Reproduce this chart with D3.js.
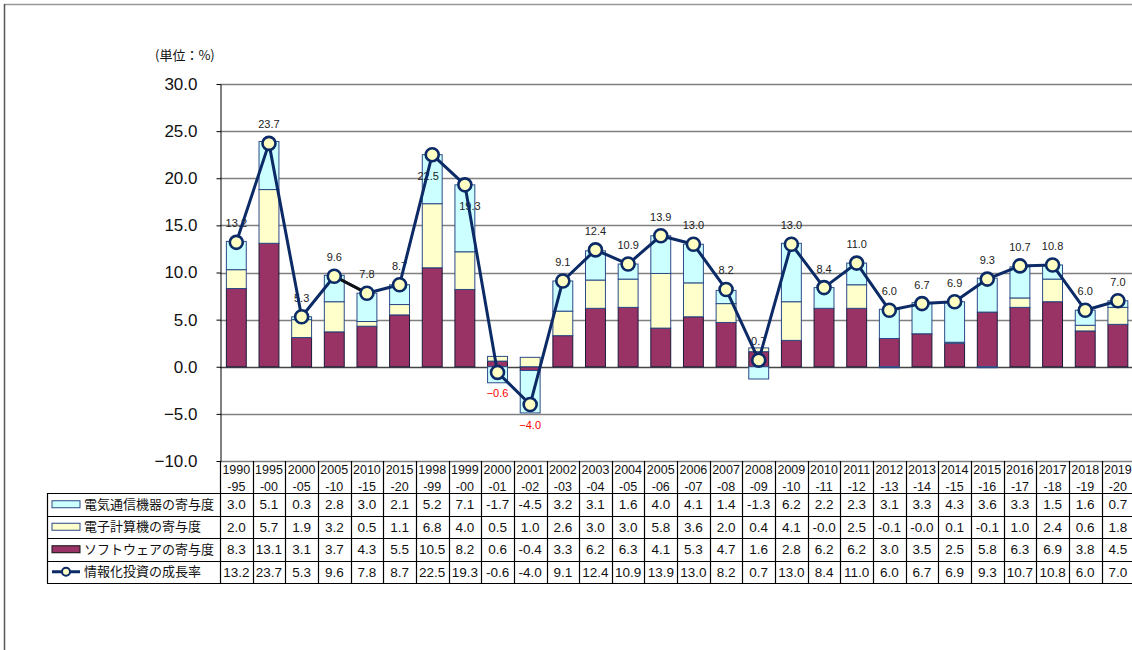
<!DOCTYPE html>
<html>
<head>
<meta charset="utf-8">
<script src="https://cdn.jsdelivr.net/npm/d3@7/dist/d3.min.js"></script>
<style>
  html, body { margin: 0; padding: 0; background: #fff; }
  svg { display: block; font-family: Arial, "Liberation Sans", sans-serif; }
  .jp { font-family: "Noto Sans CJK JP", sans-serif; }
</style>
</head>
<body>
<svg id="chart" width="1132" height="650"></svg>
<script>
// ---------------- data ----------------
const categories = ["1990-95","1995-00","2000-05","2005-10","2010-15","2015-20",
  "1998-99","1999-00","2000-01","2001-02","2002-03","2003-04","2004-05","2005-06",
  "2006-07","2007-08","2008-09","2009-10","2010-11","2011-12","2012-13","2013-14",
  "2014-15","2015-16","2016-17","2017-18","2018-19","2019-20"];
const telecom  = [3.0,5.1,0.3,2.8,3.0,2.1,5.2,7.1,-1.7,-4.5,3.2,3.1,1.6,4.0,4.1,1.4,-1.3,6.2,2.2,2.3,3.1,3.3,4.3,3.6,3.3,1.5,1.6,0.7];
const computer = [2.0,5.7,1.9,3.2,0.5,1.1,6.8,4.0,0.5,1.0,2.6,3.0,3.0,5.8,3.6,2.0,0.4,4.1,-0.0,2.5,-0.1,-0.0,0.1,-0.1,1.0,2.4,0.6,1.8];
const software = [8.3,13.1,3.1,3.7,4.3,5.5,10.5,8.2,0.6,-0.4,3.3,6.2,6.3,4.1,5.3,4.7,1.6,2.8,6.2,6.2,3.0,3.5,2.5,5.8,6.3,6.9,3.8,4.5];
const growth   = [13.2,23.7,5.3,9.6,7.8,8.7,22.5,19.3,-0.6,-4.0,9.1,12.4,10.9,13.9,13.0,8.2,0.7,13.0,8.4,11.0,6.0,6.7,6.9,9.3,10.7,10.8,6.0,7.0];
const yTicks = [-10,-5,0,5,10,15,20,25,30];
const seriesNames = ["電気通信機器の寄与度","電子計算機の寄与度","ソフトウェアの寄与度","情報化投資の成長率"];
const unitLabel = "(単位：%)";

// ---------------- layout ----------------
const svg = d3.select("#chart");
const plotLeft = 220, step = 32.65, plotRight = plotLeft + step * categories.length;
const plotTop = 84, plotBottom = 461;
const tableLeft = 47;
const headerBottom = 493;
const rowH = 22.5;

const x = d3.scaleBand().domain(categories).range([plotLeft, plotRight])
  .paddingInner(0.36).paddingOuter(0.18);
const y = d3.scaleLinear().domain([-10, 30]).range([plotBottom, plotTop]);
const cx = c => x(c) + x.bandwidth() / 2;

const colors = { telecom: "#CCFFFF", computer: "#FFFFCC", software: "#993366" };
const navy = "#0B2A66";

// outer frame
svg.append("line").attr("x1", 4).attr("x2", 1132).attr("y1", 4.5).attr("y2", 4.5)
  .attr("stroke", "#999").attr("stroke-width", 1.5);
svg.append("line").attr("x1", 4.5).attr("x2", 4.5).attr("y1", 4).attr("y2", 650)
  .attr("stroke", "#555").attr("stroke-width", 1.5);

// unit label
svg.append("text").attr("class", "jp").attr("x", 155).attr("y", 60)
  .attr("font-size", 13).attr("fill", "#111").text(unitLabel);

// gridlines
svg.append("g").selectAll("line").data(yTicks).join("line")
  .attr("x1", plotLeft).attr("x2", plotRight)
  .attr("y1", d => Math.round(y(d)) + 0.5).attr("y2", d => Math.round(y(d)) + 0.5)
  .attr("stroke", d => d === 0 ? "#444" : "#808080").attr("stroke-width", 1.3);

// y axis
const yAxis = svg.append("g").attr("transform", `translate(${plotLeft + 0.5},0)`)
  .call(d3.axisLeft(y).tickValues(yTicks).tickFormat(d3.format(".1f"))
    .tickSizeInner(4).tickSizeOuter(0).tickPadding(19));
yAxis.select(".domain").attr("stroke", "#000");
yAxis.selectAll(".tick line").attr("stroke", "#000");
yAxis.selectAll(".tick text").attr("font-size", 17).attr("fill", "#111")
  .attr("font-family", "Arial, 'Liberation Sans', sans-serif");

// stacked bars (diverging)
const series = [
  { key: "software", values: software },
  { key: "computer", values: computer },
  { key: "telecom", values: telecom }
];
const segs = [];
categories.forEach((c, i) => {
  let pos = 0, neg = 0;
  series.forEach(s => {
    const v = s.values[i];
    let y0, y1;
    if (v >= 0) { y0 = pos; y1 = pos + v; pos = y1; }
    else { y0 = neg; y1 = neg + v; neg = y1; }
    segs.push({ c, key: s.key, y0, y1 });
  });
});
svg.append("g").selectAll("rect").data(segs).join("rect")
  .attr("x", d => x(d.c) + 0.5)
  .attr("width", x.bandwidth() - 1)
  .attr("y", d => y(Math.max(d.y0, d.y1)))
  .attr("height", d => Math.abs(y(d.y0) - y(d.y1)))
  .attr("fill", d => colors[d.key])
  .attr("stroke", d => d.key === "software" ? "#1a1a3a" : "#2B4A86")
  .attr("stroke-width", 1);

// data labels
const belowIdx = new Set([6, 7, 8, 9]);
svg.append("g").selectAll("text").data(growth).join("text")
  .attr("x", (d, i) => cx(categories[i]) + (i === 6 ? -4 : i === 7 ? 5 : 0))
  .attr("y", (d, i) => belowIdx.has(i) ? y(d) + 25 : y(d) - 15)
  .attr("text-anchor", "middle").attr("font-size", 11)
  .attr("fill", d => d < 0 ? "#FF0000" : "#222")
  .text(d => d < 0 ? "\u2212" + Math.abs(d).toFixed(1) : d.toFixed(1));

// line
const line = d3.line().x((d, i) => cx(categories[i])).y(d => y(d));
svg.append("path").datum(growth).attr("d", line)
  .attr("fill", "none").attr("stroke", navy).attr("stroke-width", 3)
  .attr("stroke-linejoin", "round");
// one segment drawn in black in the original
const blackSeg = 3;
svg.append("line")
  .attr("x1", cx(categories[blackSeg])).attr("y1", y(growth[blackSeg]))
  .attr("x2", cx(categories[blackSeg + 1])).attr("y2", y(growth[blackSeg + 1]))
  .attr("stroke", "#111").attr("stroke-width", 3);
svg.append("g").selectAll("circle").data(growth).join("circle")
  .attr("cx", (d, i) => cx(categories[i])).attr("cy", d => y(d)).attr("r", 6.5)
  .attr("fill", "#FFFFC4").attr("stroke", navy).attr("stroke-width", 2.6);

// ---------------- table ----------------
const tg = svg.append("g");
const fmt = v => ((v < 0 || Object.is(v, -0)) ? "-" : "") + Math.abs(v).toFixed(1);
const rows = [telecom, computer, software, growth];

// header text
categories.forEach((c, i) => {
  const k = c.indexOf("-");
  const mx = plotLeft + step * (i + 0.5);
  tg.append("text").attr("x", mx).attr("y", 474).attr("text-anchor", "middle")
    .attr("font-size", 12.5).attr("fill", "#111").text(c.slice(0, k));
  tg.append("text").attr("x", mx).attr("y", 491).attr("text-anchor", "middle")
    .attr("font-size", 12.5).attr("fill", "#111").text(c.slice(k));
});

// value cells
rows.forEach((vals, r) => {
  const yc = headerBottom + rowH * (r + 0.5);
  vals.forEach((v, i) => {
    tg.append("text").attr("x", plotLeft + step * (i + 0.5)).attr("y", yc + 5)
      .attr("text-anchor", "middle").attr("font-size", 13.5).attr("fill", "#111")
      .text(fmt(v));
  });
  // legend label
  tg.append("text").attr("class", "jp").attr("x", 84).attr("y", yc + 4.5)
    .attr("font-size", 13).attr("fill", "#111").text(seriesNames[r]);
});

// legend swatches
const swatchColors = [colors.telecom, colors.computer, colors.software];
swatchColors.forEach((col, r) => {
  const yc = headerBottom + rowH * (r + 0.5);
  tg.append("rect").attr("x", 52).attr("y", yc - 3.5).attr("width", 28).attr("height", 7)
    .attr("fill", col).attr("stroke", r === 2 ? "#111" : "#2B4A86").attr("stroke-width", 1);
});
{
  const yc = headerBottom + rowH * 3.5;
  tg.append("line").attr("x1", 52).attr("x2", 80).attr("y1", yc).attr("y2", yc)
    .attr("stroke", navy).attr("stroke-width", 3);
  tg.append("circle").attr("cx", 66).attr("cy", yc).attr("r", 4)
    .attr("fill", "#FFFFC4").attr("stroke", navy).attr("stroke-width", 2);
}

// grid lines of table
const tableBottom = headerBottom + rowH * 4;
for (let r = 0; r <= 4; r++) {
  const yy = Math.round(headerBottom + rowH * r) + 0.5;
  tg.append("line").attr("x1", tableLeft).attr("x2", plotRight).attr("y1", yy).attr("y2", yy)
    .attr("stroke", "#000").attr("stroke-width", 1.2);
}
for (let i = 0; i <= categories.length; i++) {
  const xx = Math.round(plotLeft + step * i) + 0.5;
  tg.append("line").attr("x1", xx).attr("x2", xx).attr("y1", plotBottom).attr("y2", tableBottom)
    .attr("stroke", "#000").attr("stroke-width", 1.2);
}
tg.append("line").attr("x1", tableLeft + 0.5).attr("x2", tableLeft + 0.5)
  .attr("y1", headerBottom).attr("y2", tableBottom).attr("stroke", "#000").attr("stroke-width", 1.2);
</script>
</body>
</html>
